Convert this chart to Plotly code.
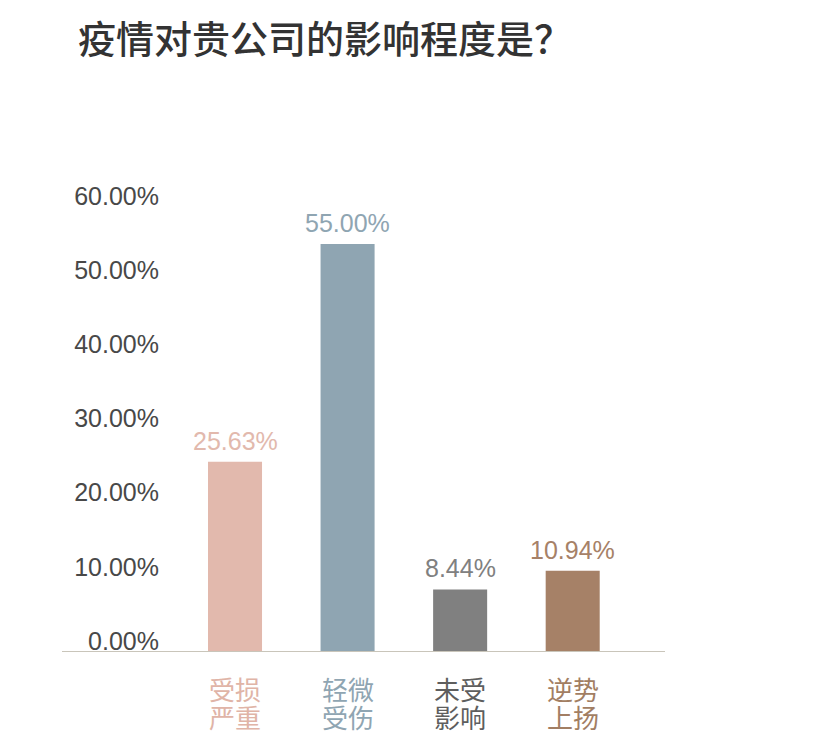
import plotly.graph_objects as go

cat_line1 = ["受损", "轻微", "未受", "逆势"]
cat_line2 = ["严重", "受伤", "影响", "上扬"]
values = [0.2563, 0.55, 0.0844, 0.1094]
bar_colors = ["#e2b9ad", "#8fa5b2", "#808080", "#a68167"]
label_colors = ["#e0b4a7", "#8fa5b2", "#5e5e5e", "#a27e63"]
ytick_vals = [0, 0.1, 0.2, 0.3, 0.4, 0.5, 0.6]
ytick_text = ["0.00%", "10.00%", "20.00%", "30.00%", "40.00%", "50.00%", "60.00%"]

xpos = list(range(len(values)))
num_font = "Liberation Sans, Arial"
cjk_font = "Noto Sans CJK SC"

fig = go.Figure()
fig.add_trace(go.Bar(
    x=xpos, y=values,
    marker=dict(color=bar_colors, line=dict(width=0)),
    width=0.48,
    cliponaxis=False,
    hoverinfo="skip",
))

annotations = []
for i, (v, bc) in enumerate(zip(values, bar_colors)):
    annotations.append(dict(
        x=i, y=v, xref="x", yref="y", text=f"{v*100:.2f}%", showarrow=False,
        yshift=21, yanchor="middle", xanchor="center",
        font=dict(size=25, color=bc, family=num_font),
    ))
for i, (a, b, c) in enumerate(zip(cat_line1, cat_line2, label_colors)):
    for txt, shift in ((a, -36), (b, -64)):
        annotations.append(dict(
            x=i, y=0, xref="x", yref="y", text=txt, showarrow=False,
            yshift=shift, yanchor="middle", xanchor="center",
            font=dict(size=26, color=c, family=cjk_font),
        ))

fig.update_layout(
    width=840, height=747,
    margin=dict(l=165, r=175, t=192, b=95),
    paper_bgcolor="white", plot_bgcolor="white",
    showlegend=False,
    title=dict(
        text="疫情对贵公司的影响程度是？",
        x=78/840, xanchor="left", y=1-40/747, yanchor="middle",
        font=dict(size=38, color="#333333", family=cjk_font, weight=500),
    ),
    xaxis=dict(
        range=[-0.622, 3.82],
        tickvals=xpos, showticklabels=False,
        showgrid=False, zeroline=False, showline=False, ticks="",
    ),
    yaxis=dict(
        range=[0, 0.62],
        tickvals=ytick_vals, ticktext=ytick_text,
        tickfont=dict(size=25, color="#484848", family=num_font),
        ticklabelposition="outside",
        ticklabelshift=-11,
        showgrid=False, zeroline=False, showline=False, ticks="",
        ticklabelstandoff=5,
    ),
    annotations=annotations,
    shapes=[dict(
        type="line", xref="paper", yref="y",
        x0=(62-165)/500, x1=1, y0=0, y1=0,
        line=dict(color="#c9c5ba", width=2),
    )],
)

fig.write_html("out.html")
